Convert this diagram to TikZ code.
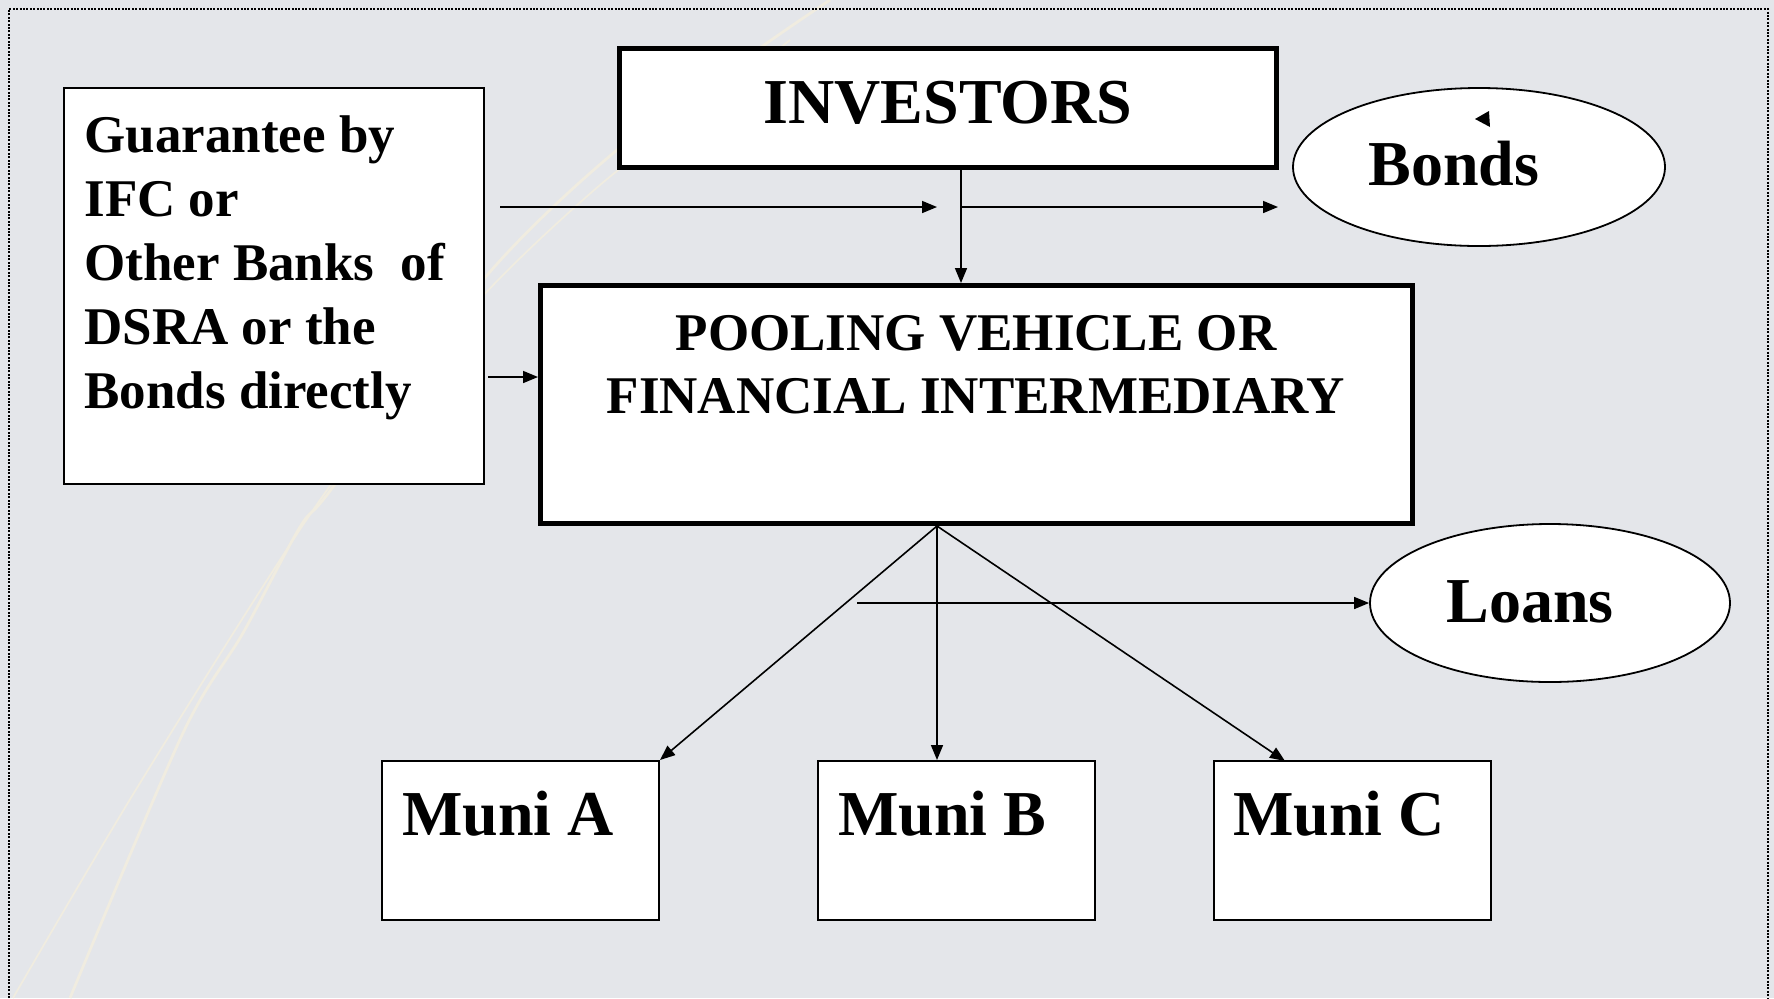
\documentclass[tikz,border=0pt]{standalone}
\usepackage{fontspec}
\setmainfont{Liberation Serif}
\usetikzlibrary{arrows.meta,shapes.geometric,calc}
\definecolor{bg}{RGB}{228,230,234}
\definecolor{swoosh}{RGB}{240,236,224}
\begin{document}
\begin{tikzpicture}[x=0.5pt,y=-0.5pt,
  box/.style={draw=black,fill=white,inner sep=0pt,line width=1pt},
  heavybox/.style={draw=black,fill=white,inner sep=0pt,line width=2.5pt},
  oval/.style={ellipse,draw=black,fill=white,inner sep=0pt,line width=0.9pt},
  big/.style={font=\fontsize{32}{38}\selectfont\bfseries},
  mid/.style={font=\fontsize{26.5}{32}\selectfont\bfseries},
  lbl/.style={inner sep=0pt,anchor=base west},
  clbl/.style={inner sep=0pt,anchor=base},
  arr/.style={line width=0.8pt,-{Triangle[length=7.5pt,width=6pt]}},
  plain/.style={line width=0.8pt}]
% background and frame
\useasboundingbox (0,0) rectangle (1774,998);
\fill[bg] (0,0) rectangle (1774,998);
\draw[swoosh,line width=1.4pt] plot[smooth] coordinates {(70,998) (183,733) (243,633) (300,527) (333,487) (483,280) (617,150) (767,43) (830,0)};
\draw[swoosh,line width=0.9pt] plot[smooth] coordinates {(13,998) (140,783) (320,500) (470,310) (600,185) (720,95) (790,40)};
\draw[black,line width=1pt,dash pattern=on 1pt off 0.7pt] (9,998) -- (9,9) -- (1768,9) -- (1768,998);

% boxes
\node[box,line width=1.25pt,minimum width=210pt,minimum height=198pt] (guar) at (274,286) {};
\node[mid,lbl] (g1) at (84,152) {Guarantee by};
\node[mid,lbl] (g2) at (84,216) {IFC or};
\node[mid,lbl] (g3) at (84,280) {Other Banks~ of};
\node[mid,lbl] (g4) at (84,344) {DSRA or the};
\node[mid,lbl] (g5) at (84,408) {Bonds directly};

\node[heavybox,minimum width=328.5pt,minimum height=59.5pt] (inv) at (948,108) {};
\node[big,clbl] (invt) at (948,123) {INVESTORS};

\node[heavybox,minimum width=436pt,minimum height=119pt] (pool) at (976.5,404.5) {};
\node[mid,clbl] (p1) at (976,350) {POOLING VEHICLE OR};
\node[mid,clbl] (p2) at (976,413) {FINANCIAL INTERMEDIARY};

\node[oval,minimum width=186pt,minimum height=79pt] (bonds) at (1479,167) {};
\node[big,lbl] (bondst) at (1368,185) {Bonds};
\fill (1475,119) -- (1489,111) -- (1490,127) -- cycle;

\node[oval,minimum width=180pt,minimum height=79pt] (loans) at (1550,603) {};
\node[big,lbl] (loanst) at (1446,622) {Loans};

\node[box,minimum width=138.5pt,minimum height=79.5pt] (ma) at (520.5,840.5) {};
\node[big,lbl] (mat) at (402,835) {Muni A};
\node[box,minimum width=138.5pt,minimum height=79.5pt] (mb) at (956,840.5) {};
\node[big,lbl] (mbt) at (838,835) {Muni B};
\node[box,minimum width=138.5pt,minimum height=79.5pt] (mc) at (1352.5,840.5) {};
\node[big,lbl] (mct) at (1233,835) {Muni C};

% connector points
\coordinate (h1s) at (500,207);
\coordinate (h1e) at (937,207);
\coordinate (h2s) at (961,207);
\coordinate (h2e) at (1278,207);
\coordinate (gs) at (488,377);
\coordinate (apex) at (937,526);
\coordinate (ls) at (857,603);
\coordinate (mctop) at (1285,761);

% connectors
\draw[arr] (h1s) -- (h1e);
\draw[arr] (h2s) -- (h2e);
\draw[arr] (h2s |- inv.south) -- (h2s |- pool.north);
\draw[arr] (gs) -- (gs -| pool.west);
\draw[arr] (apex) -- (ma.north east);
\draw[arr] (apex) -- (apex |- mb.north);
\draw[arr] (apex) -- (mctop);
\draw[arr] (ls) -- (loans.west);
\end{tikzpicture}
\end{document}
